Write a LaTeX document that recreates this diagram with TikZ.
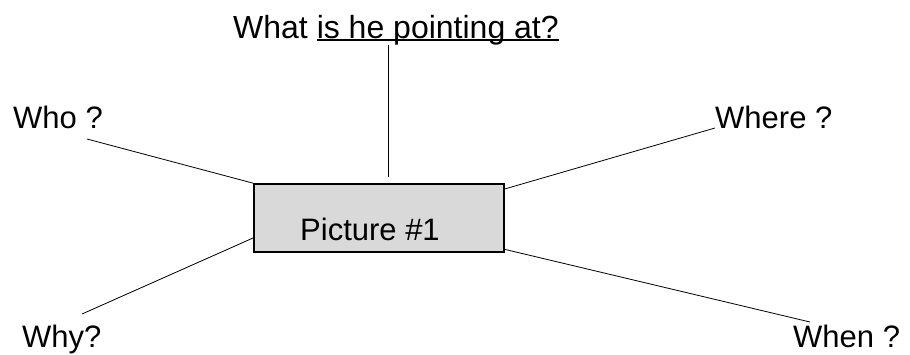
\documentclass[tikz,border=0pt]{standalone}
\usepackage{fontspec}
\setmainfont{Liberation Sans}
\newcommand\ulpart[1]{\setbox0\hbox{#1}\rlap{\rule[-3pt]{\wd0}{1.8pt}}\box0}

\begin{document}
\begin{tikzpicture}
[x=1pt, y=-1pt,
    question/.style={anchor=base west, inner sep=0pt, font=\fontsize{31}{37}\selectfont},
    picture box/.style={draw, line width=1.6pt, fill=black!15, minimum width=250pt, minimum height=68pt, inner sep=0pt},
    spoke/.style={line width=0.8pt}]
\useasboundingbox (0,0) rectangle (910,354);
\node [picture box] (pic) at (379,218) {};
\node [question] (pic text) at (300,240) {Picture \#1};
\node [question, font=\fontsize{32}{38}\selectfont] (what) at (233,38) {What \ulpart{is he pointing at?}};
\node [question] (who) at (13,128) {Who ?};
\node [question] (where) at (715,128) {Where ?};
\node [question] (why) at (22,347) {Why?};
\node [question] (when) at (793,347) {When ?};
\coordinate (who end) at (87,139);
\coordinate (why end) at (82,314);
\coordinate (when end) at (810,322);
\draw [spoke] ([xshift=9pt, yshift=6pt]pic.north) -- ([xshift=9pt]pic.north |- what.south);
\draw [spoke] (pic.north west) -- (who end);
\draw [spoke] (pic.189) -- (why end);
\draw [spoke] (pic.13.8) -- (where.base west);
\draw [spoke] (pic.346.6) -- (when end);
\end{tikzpicture}
\end{document}
